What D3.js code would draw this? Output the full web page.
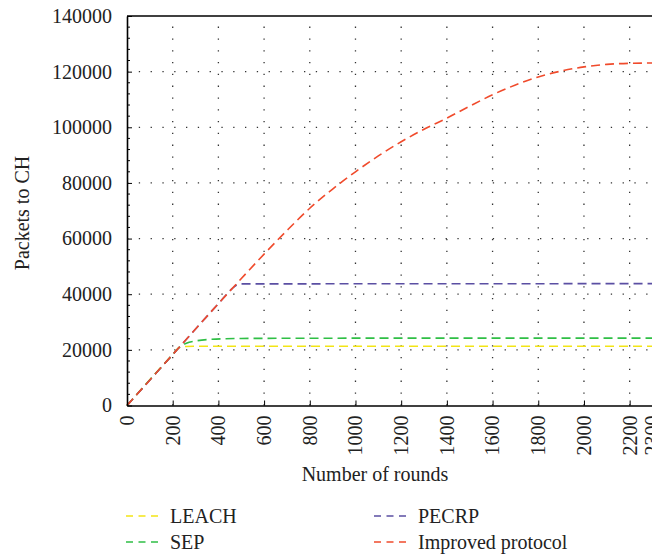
<!DOCTYPE html>
<html>
<head>
<meta charset="utf-8">
<script src="https://cdn.jsdelivr.net/npm/d3@7"></script>
<style>
  body { margin: 0; background: #fff; }
  svg { display: block; font-family: "Liberation Serif", "DejaVu Serif", serif; }
</style>
</head>
<body>
<div id="chart"></div>
<script>
// data
const leachRounds = [0, 200, 230, 250, 300, 2300];
const leachPackets = [0, 18300, 20900, 21200, 21300, 21300];

const sepRounds = [0, 200, 230, 260, 300, 370, 500, 1000, 2300];
const sepPackets = [0, 18300, 21000, 22400, 23200, 23800, 24100, 24200, 24200];

const pecrpRounds = [0, 200, 400, 460, 480, 500, 2300];
const pecrpPackets = [0, 18300, 36600, 42000, 43300, 43700, 43800];

const improvedRounds = [0, 200, 400, 600, 700, 800, 900, 1000, 1100, 1200, 1300, 1400, 1500, 1600, 1700, 1800, 1900, 2000, 2100, 2200, 2300];
const improvedPackets = [0, 18300, 36600, 54400, 62900, 70900, 77800, 84000, 89700, 94800, 99300, 103300, 107600, 111700, 115200, 118100, 120200, 121700, 122600, 123000, 123100];

const seriesNames = ["LEACH", "SEP", "PECRP", "Improved protocol"];
const seriesColors = ["#f3e516", "#2fbf45", "#5b4fa3", "#f04b2c"];

const xTicks = [0, 200, 400, 600, 800, 1000, 1200, 1400, 1600, 1800, 2000, 2200, 2300];
const yTicks = [0, 20000, 40000, 60000, 80000, 100000, 120000, 140000];

const width = 652, height = 556;
const marginLeft = 127, marginTop = 16, plotBottom = 405.5, plotRight = 652.5;
const fontFamily = '"Liberation Serif", "DejaVu Serif", serif';

const svg = d3.select("#chart").append("svg")
    .attr("width", width)
    .attr("height", height)
    .attr("viewBox", [0, 0, width, height]);

const x = d3.scaleLinear().domain([0, 2300]).range([marginLeft, plotRight]);
const y = d3.scaleLinear().domain([0, 140000]).range([plotBottom, marginTop]);

// dotted grid
const grid = svg.append("g")
    .attr("stroke", "#333")
    .attr("stroke-width", 1.3)
    .attr("stroke-dasharray", "1.3,10.5");
grid.selectAll(".vg")
    .data(xTicks.filter(d => d > 0 && d < 2300))
    .join("line")
    .attr("x1", d => x(d)).attr("x2", d => x(d))
    .attr("y1", plotBottom).attr("y2", marginTop);
grid.selectAll(".hg")
    .data(yTicks.filter(d => d > 0 && d < 140000))
    .join("line")
    .attr("y1", d => y(d)).attr("y2", d => y(d))
    .attr("x1", marginLeft).attr("x2", plotRight);

// series
const series = [
    {rounds: leachRounds, packets: leachPackets},
    {rounds: sepRounds, packets: sepPackets},
    {rounds: pecrpRounds, packets: pecrpPackets},
    {rounds: improvedRounds, packets: improvedPackets}
];
const line = d3.line()
    .x(d => x(d[0]))
    .y(d => y(d[1]))
    .curve(d3.curveMonotoneX);

svg.append("g")
    .selectAll("path")
    .data(series)
    .join("path")
    .attr("d", s => line(s.rounds.map((r, i) => [r, s.packets[i]])))
    .attr("fill", "none")
    .attr("stroke", (s, i) => seriesColors[i])
    .attr("stroke-width", 1.6)
    .attr("stroke-dasharray", "9,5");

// axes
const xAxis = svg.append("g")
    .attr("transform", `translate(0,${plotBottom})`)
    .call(d3.axisBottom(x).tickValues(xTicks).tickSize(-5).tickSizeOuter(0).tickFormat(d3.format("d")))
    .attr("font-family", fontFamily)
    .attr("font-size", 20);
xAxis.select(".domain").attr("stroke-width", 1.6);
xAxis.selectAll("text")
    .attr("fill", "#222")
    .attr("text-anchor", "end")
    .attr("dy", "0.32em")
    .attr("transform", "translate(0,10) rotate(-90)")
    .attr("x", 0)
    .attr("y", 0);

const yAxis = svg.append("g")
    .attr("transform", `translate(${marginLeft},0)`)
    .call(d3.axisLeft(y).tickValues(yTicks).tickSize(-5).tickSizeOuter(0).tickPadding(15).tickFormat(d3.format("d")))
    .attr("font-family", fontFamily)
    .attr("font-size", 20);
yAxis.select(".domain").attr("stroke-width", 1.6);
yAxis.selectAll("text").attr("fill", "#222");

// minor y ticks every 4000
svg.append("g")
    .selectAll("line")
    .data(d3.range(4000, 140000, 4000).filter(d => d % 20000 !== 0))
    .join("line")
    .attr("x1", marginLeft).attr("x2", marginLeft + 3)
    .attr("y1", d => y(d)).attr("y2", d => y(d))
    .attr("stroke", "#000");

// top border
svg.append("line")
    .attr("x1", marginLeft).attr("x2", plotRight)
    .attr("y1", marginTop).attr("y2", marginTop)
    .attr("stroke", "#000").attr("stroke-width", 1.6);

// axis titles
svg.append("text")
    .attr("x", 375).attr("y", 481)
    .attr("text-anchor", "middle")
    .attr("font-size", 20).attr("fill", "#222")
    .text("Number of rounds");
svg.append("text")
    .attr("transform", "translate(29,213) rotate(-90)")
    .attr("text-anchor", "middle")
    .attr("font-size", 20).attr("fill", "#222")
    .text("Packets to CH");

// legend
const legendPos = [[126, 516], [126, 542], [374, 516], [374, 542]];
const legend = svg.append("g")
    .selectAll("g")
    .data(seriesNames)
    .join("g")
    .attr("transform", (d, i) => `translate(${legendPos[i][0]},${legendPos[i][1]})`);
legend.append("line")
    .attr("x1", 0).attr("x2", 32)
    .attr("stroke", (d, i) => seriesColors[i])
    .attr("stroke-width", 1.6)
    .attr("stroke-dasharray", "7,5.5");
legend.append("text")
    .attr("x", 44).attr("dy", "0.33em")
    .attr("font-size", 20).attr("fill", "#222")
    .text(d => d);
</script>
</body>
</html>
